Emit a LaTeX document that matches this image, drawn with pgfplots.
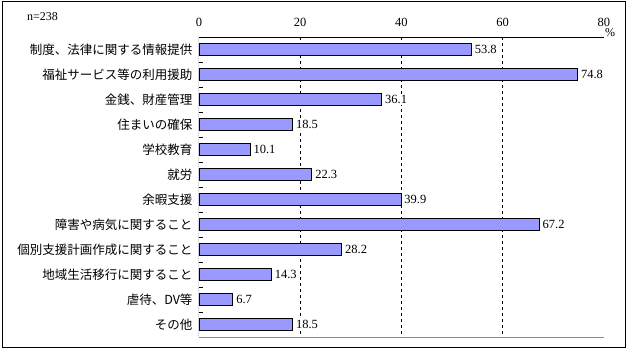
\documentclass[border=0pt]{standalone}
\usepackage{fontspec}
\setmainfont{Liberation Serif}
\newfontfamily\cjk{Noto Sans CJK JP}
\usepackage{pgfplots}
\pgfplotsset{compat=1.18}
\definecolor{barfill}{RGB}{153,153,255}
\definecolor{axgray}{RGB}{140,140,140}
\begin{document}
\begin{tikzpicture}
\useasboundingbox (-199pt,-14pt) rectangle (429pt,337pt);
\draw[line width=1pt] (-196pt,-10pt) rectangle (426pt,335pt);
\node[anchor=west,font=\fontsize{12}{14}\selectfont,inner sep=0pt] at (-172pt,320pt) {n=238};
\node[font=\fontsize{12}{14}\selectfont,inner sep=0pt] at (411pt,304pt) {\%};
\begin{axis}[
  at={(0,0)}, anchor=south west,
  scale only axis, width=405pt, height=300pt,
  xbar, bar width=12.5pt,
  xmin=0, xmax=80, ymin=-0.5, ymax=11.5, y dir=reverse,
  axis line style={draw=none},
  xtick={0,20,40,60,80}, xtick pos=upper, xticklabel pos=upper,
  xticklabel shift=7pt,
  xticklabel style={font=\fontsize{12.5}{14}\selectfont},
  major tick length=0pt,
  ytick={0,...,11}, ytick pos=left,
  yticklabels={制度、法律に関する情報提供,福祉サービス等の利用援助,金銭、財産管理,住まいの確保,学校教育,就労,余暇支援,障害や病気に関すること,個別支援計画作成に関すること,地域生活移行に関すること,虐待、DV等,その他},
  yticklabel style={font=\cjk\fontsize{12.5}{14}\selectfont, xshift=-3pt},
  extra y ticks={0.5,1.5,2.5,3.5,4.5,5.5,6.5,7.5,8.5,9.5,10.5},
  extra y tick labels={},
  extra y tick style={major tick length=4pt, tick align=inside, ytick pos=left, tick style={black, line width=0.8pt}},
  extra x ticks={20,40,60},
  extra x tick labels={},
  extra x tick style={grid=major, major grid style={dashed, black, line width=0.8pt}},
  nodes near coords={\pgfmathprintnumber[fixed,fixed zerofill,precision=1]{\pgfplotspointmeta}},
  nodes near coords align={horizontal},
  every node near coord/.append style={font=\fontsize{12.5}{14}\selectfont, black, fill=white, inner sep=1pt, xshift=2pt},
  /pgf/number format/assume math mode=true,
]
\addplot[fill=barfill, draw=black, line width=0.9pt] coordinates {
(53.8,0) (74.8,1) (36.1,2) (18.5,3) (10.1,4) (22.3,5) (39.9,6) (67.2,7) (28.2,8) (14.3,9) (6.7,10) (18.5,11)};
\draw[axgray, line width=0.8pt] (axis cs:80,-0.5) -- (axis cs:80,11.5) -- (axis cs:0,11.5);
\draw[black, line width=1pt] (axis cs:80,-0.5) -- (axis cs:0,-0.5) -- (axis cs:0,11.5);
\end{axis}
\end{tikzpicture}
\end{document}
